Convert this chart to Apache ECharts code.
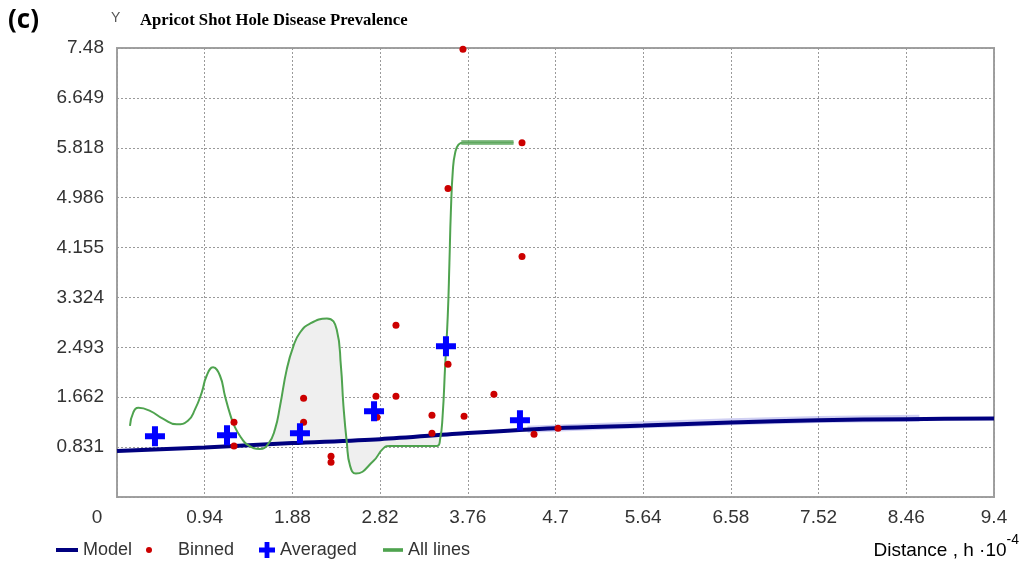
<!DOCTYPE html>
<html>
<head>
<meta charset="utf-8">
<script src="https://cdn.jsdelivr.net/npm/echarts@6/dist/echarts.min.js"></script>
<style>
html,body{margin:0;padding:0;background:#fff;}
#chart{width:1028px;height:565px;}
</style>
</head>
<body>
<div id="chart"></div>
<script>
// ---- data ----
const xTickLabels = ['0','0.94','1.88','2.82','3.76','4.7','5.64','6.58','7.52','8.46','9.4'];
const yTickLabels = ['','0.831','1.662','2.493','3.324','4.155','4.986','5.818','6.649','7.48'];

const modelX = [0, 0.94, 1.88, 2.82, 3.76, 4.7, 5.64, 6.58, 7.52, 8.46, 9.4];
const modelY = [0.765, 0.826, 0.898, 0.964, 1.065, 1.147, 1.19, 1.24, 1.28, 1.297, 1.308];

const modelHighlight = [[4.4, 1.13], [5.64, 1.205], [6.58, 1.255], [7.52, 1.292], [8.6, 1.31]];

const binned = [
  [3.708, 7.46], [4.341, 5.90], [3.548, 5.14], [4.341, 4.006], [2.99, 2.86],
  [3.548, 2.21], [2.00, 1.645], [2.776, 1.68], [2.99, 1.68], [4.04, 1.71],
  [3.376, 1.363], [3.72, 1.346], [1.254, 1.247], [2.00, 1.247], [2.787, 1.33],
  [3.376, 1.064], [1.254, 0.85], [2.294, 0.68], [2.294, 0.58], [4.47, 1.047],
  [4.727, 1.147]
];

const averaged = [
  [0.407, 1.014], [1.179, 1.03], [1.961, 1.064], [2.755, 1.43], [3.526, 2.51], [4.319, 1.28]
];

const allLines = [
  [0.139, 1.185], [0.175, 1.41], [0.23, 1.485], [0.354, 1.435],
  [0.496, 1.30], [0.64, 1.21], [0.76, 1.27], [0.836, 1.46], [0.908, 1.74],
  [0.961, 2.02], [1.03, 2.16], [1.104, 2.02], [1.158, 1.68],
  [1.212, 1.38], [1.265, 1.16], [1.33, 0.99], [1.40, 0.87], [1.53, 0.80],
  [1.62, 0.88], [1.694, 1.13], [1.748, 1.52], [1.82, 2.13],
  [1.89, 2.51], [1.962, 2.74], [2.069, 2.89], [2.25, 2.975],
  [2.355, 2.79], [2.40, 2.18], [2.427, 1.52], [2.463, 0.91], [2.498, 0.52],
  [2.56, 0.39], [2.748, 0.60], [2.855, 0.81], [2.927, 0.85],
  [3.428, 0.85], [3.463, 0.96], [3.49, 1.35], [3.517, 2.18], [3.545, 3.01],
  [3.563, 3.90], [3.578, 4.73], [3.60, 5.45], [3.624, 5.73], [3.66, 5.87],
  [3.713, 5.906], [4.25, 5.906]
];
const allLinesTop = [[3.69, 5.906], [4.25, 5.906]];
const shadeRange = [1.64, 3.46];

// ---- helpers ----
function modelAt(x) {
  for (let i = 0; i < modelX.length - 1; i++) {
    if (x >= modelX[i] && x <= modelX[i + 1]) {
      const t = (x - modelX[i]) / (modelX[i + 1] - modelX[i]);
      return modelY[i] + t * (modelY[i + 1] - modelY[i]);
    }
  }
  return modelY[modelY.length - 1];
}
function renderShade(params, api) {
  const pts = [];
  allLines.forEach(p => {
    if (p[0] >= shadeRange[0] && p[0] <= shadeRange[1]) pts.push(api.coord(p));
  });
  const backX = [shadeRange[1]];
  modelX.slice().reverse().forEach(x => { if (x < shadeRange[1] && x > shadeRange[0]) backX.push(x); });
  backX.push(shadeRange[0]);
  backX.forEach(x => pts.push(api.coord([x, modelAt(x)])));
  return { type: 'polygon', shape: { points: pts, smooth: 0.2 }, style: { fill: '#efefef' } };
}

const crossPath = 'path://M7,0h6v7h7v6h-7v7h-6v-7h-7v-6h7z';
const barPath = 'path://M0,0h22v4h-22z';
const FONT = 'Liberation Sans';
const navy = '#00007f';
const green = '#4fa34f';
const red = '#cc0000';
const blue = '#0000ff';

const legendText = { fontFamily: FONT, fontSize: 18, color: '#333' };
const legendTop = 536;

const chart = echarts.init(document.getElementById('chart'));
chart.setOption({
  animation: false,
  backgroundColor: '#fff',
  grid: { left: 117, right: 34, top: 48, bottom: 68, show: true, borderColor: '#a0a0a0', borderWidth: 2, backgroundColor: 'transparent' },
  xAxis: {
    type: 'value', min: 0, max: 9.4, interval: 0.94,
    axisLine: { show: false }, axisTick: { show: false },
    splitLine: { show: true, lineStyle: { type: [2, 2], color: '#9a9a9a', width: 1 } },
    axisLabel: {
      margin: 11, fontFamily: FONT, fontSize: 19, color: '#333',
      formatter: (v) => {
        const i = Math.round(v / 0.94);
        return i === 0 ? '{z|' + xTickLabels[0] + '}' : xTickLabels[i];
      },
      rich: { z: { fontFamily: FONT, fontSize: 19, color: '#333', padding: [0, 40, 0, 0] } }
    }
  },
  yAxis: {
    type: 'value', min: 0, max: 7.48, interval: 7.48 / 9,
    axisLine: { show: false }, axisTick: { show: false },
    splitLine: { show: true, lineStyle: { type: [2, 2], color: '#9a9a9a', width: 1 } },
    axisLabel: {
      margin: 13, fontFamily: FONT, fontSize: 19, color: '#333',
      formatter: (v) => yTickLabels[Math.round(v / (7.48 / 9))] || ''
    }
  },
  legend: [
    { data: [{ name: 'Model', icon: barPath, itemStyle: { color: navy } }], left: 51, top: legendTop, itemWidth: 22, itemHeight: 4, textStyle: legendText },
    { data: [{ name: 'Binned', icon: 'circle', itemStyle: { color: red } }], left: 141, top: legendTop, itemWidth: 6, itemHeight: 6, textStyle: Object.assign({ padding: [0, 0, 0, 21] }, legendText) },
    { data: [{ name: 'Averaged', icon: crossPath, itemStyle: { color: blue } }], left: 254, top: legendTop, itemWidth: 16, itemHeight: 16, textStyle: legendText },
    { data: [{ name: 'All lines', icon: barPath, itemStyle: { color: green } }], left: 378, top: legendTop, itemWidth: 20, itemHeight: 4, textStyle: legendText }
  ],
  graphic: [
    { type: 'text', left: 8, top: 8, style: { text: '(c)', font: 'bold 26px "Open Sans"', fill: '#000' } },
    { type: 'text', left: 111, top: 11, style: { text: 'Y', font: '14px "Liberation Sans"', fill: '#555' } },
    { type: 'text', left: 140, top: 12, style: { text: 'Apricot Shot Hole Disease Prevalence', font: 'bold 16.7px "Liberation Serif"', fill: '#000' } },
    { type: 'text', right: 9, top: 533, style: {
        text: '{a|Distance , h ·10}{s|-4}',
        rich: {
          a: { fontFamily: FONT, fontSize: 19, color: '#333', verticalAlign: 'bottom', lineHeight: 27 },
          s: { fontFamily: FONT, fontSize: 14, color: '#333', verticalAlign: 'top', lineHeight: 27 }
        }
    } }
  ],
  series: [
    { type: 'custom', name: 'shade', renderItem: renderShade, data: [[0, 0]], silent: true, z: 1 },
    { type: 'line', name: 'modelHighlight', data: modelHighlight, symbol: 'none', silent: true,
      lineStyle: { color: 'rgba(120,120,220,0.35)', width: 7 }, z: 2 },
    { type: 'line', name: 'Model', data: modelX.map((x, i) => [x, modelY[i]]), symbol: 'none', smooth: 0.3,
      lineStyle: { color: navy, width: 4 }, itemStyle: { color: navy }, z: 3 },
    { type: 'line', name: 'All lines', data: allLines, symbol: 'none', smooth: 0.5,
      lineStyle: { color: green, width: 2 }, itemStyle: { color: green }, z: 4 },
    { type: 'line', name: 'allLinesTop', data: allLinesTop, symbol: 'none', silent: true,
      lineStyle: { color: 'rgba(100,170,100,0.75)', width: 5 }, z: 4 },
    { type: 'scatter', name: 'Binned', data: binned, symbol: 'circle', symbolSize: 7,
      itemStyle: { color: red, opacity: 1 }, z: 5 },
    { type: 'scatter', name: 'Averaged', data: averaged, symbol: crossPath, symbolSize: 20,
      itemStyle: { color: blue, opacity: 1 }, z: 6 }
  ]
});
</script>
</body>
</html>
